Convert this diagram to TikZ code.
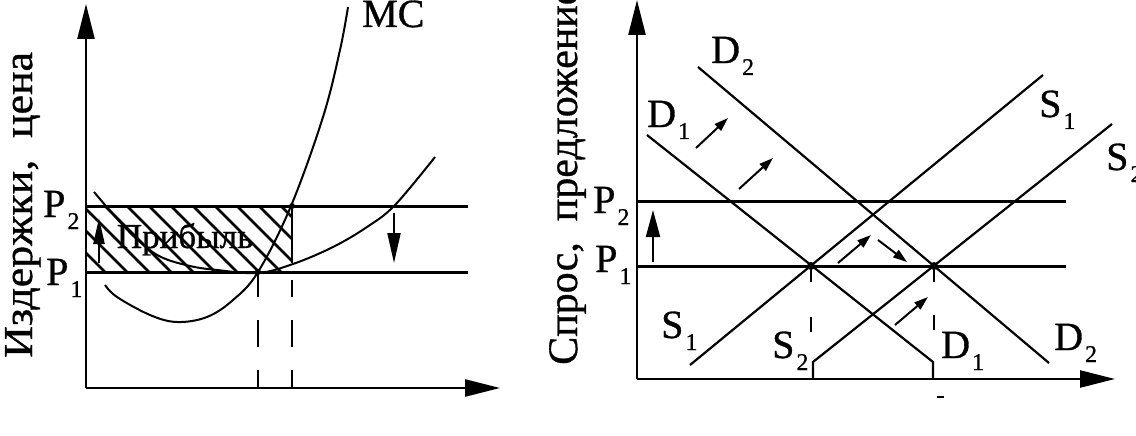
\documentclass[tikz,border=0pt]{standalone}
\usepackage{fontspec}
\setmainfont{Liberation Serif}[FakeBold=0.8]
\usetikzlibrary{arrows.meta}
\newcommand\sublab[2]{{\fontsize{40}{40}\selectfont #1}\kern2pt\raisebox{-12pt}{\fontsize{24}{24}\selectfont #2}}
\begin{document}
\begin{tikzpicture}[x=1pt,y=-1pt,
  axis/.style={line width=2.5pt,-{Triangle[length=35pt,width=17pt]}},
  price/.style={line width=3pt},
  curve/.style={line width=2pt},
  sd/.style={line width=2.2pt},
  hatch/.style={line width=2.5pt},
  guide/.style={line width=2pt},
  shiftarrow/.style={line width=2pt,-{Triangle[length=14pt,width=9pt]}},
  lbl/.style={inner sep=0pt,anchor=base west},
  dot/.style={circle,fill,inner sep=0pt,minimum size=8pt},
]
\useasboundingbox (0,0) rectangle (1136,436);

% ---------- left chart ----------
\coordinate (LO) at (86,388);
\coordinate (LYT) at (86,4);
\coordinate (LXT) at (500,388);
\begin{scope}
  \clip (86,206) rectangle (292,272);
  \foreach \k in {-6,...,7} \draw[hatch] ({127+22*\k},206) -- ({193+22*\k},272);
\end{scope}
\draw[axis] (LO) -- (LYT);
\draw[axis] (LO) -- (LXT);
\coordinate (LP2a) at (86,206); \coordinate (LP2b) at (468,206);
\coordinate (LP1a) at (86,272); \coordinate (LP1b) at (468,272);
\draw[price] (LP2a) -- (LP2b);
\draw[price] (LP1a) -- (LP1b);
\coordinate (A) at (292,206);
\coordinate (B) at (258,272);
\coordinate (Ab) at (292,388);
\coordinate (Bb) at (258,388);
\draw[guide,dash pattern=on 57pt off 17pt on 17pt off 23pt on 27pt off 23pt on 18pt] (A) -- (Ab);
\draw[guide,dash pattern=on 25pt off 23pt on 27pt off 23pt on 18pt] (B) -- (Bb);
% MC
\draw[curve] plot[smooth,tension=0.6] coordinates {(105,285) (117,297) (150,315) (177,322) (207,317) (233,300) (258,272) (291,206) (323,117) (340,50) (348,7)};
% AC
\draw[curve] plot[smooth,tension=0.6] coordinates {(94,192) (120,222) (140,242) (161,257) (190,266) (217,270) (258,273) (293,264) (333,247) (367,227) (395,205) (435,157)};
\node[dot,minimum size=6pt] (dA) at (A) {};
\node[dot,minimum size=6pt] (dB) at (B) {};
\coordinate (ua1) at (99,263); \coordinate (ua2) at (99,218);
\draw[line width=2.5pt,-{Triangle[length=26pt,width=11pt]}] (ua1) -- (ua2);
\coordinate (da1) at (394,213); \coordinate (da2) at (394,263);
\draw[line width=2pt,-{Triangle[length=30pt,width=13pt]}] (da1) -- (da2);
\node[inner sep=0pt,anchor=base,font=\fontsize{35}{35}\selectfont] (profit) at (185,248) {Прибыль};
\node[rotate=90,anchor=base west,inner sep=0pt,font=\fontsize{41}{41}\selectfont] (ylabL) at (32,358) {\scalebox{1.07}[1]{Издержки,\ \ цена}};
\node[lbl,font=\fontsize{40}{40}\selectfont] (mc) at (362,27) {MC};
\node[lbl] (lp2) at (43,217) {\sublab{P}{2}};
\node[lbl] (lp1) at (46,285) {\sublab{P}{1}};

% ---------- right chart ----------
\coordinate (RO) at (637,379);
\coordinate (RYT) at (637,0);
\coordinate (RXT) at (1115,379);
\draw[axis] (RO) -- (RYT);
\draw[axis] (RO) -- (RXT);
\coordinate (RP2a) at (637,201); \coordinate (RP2b) at (1066,201);
\coordinate (RP1a) at (637,266); \coordinate (RP1b) at (1066,266);
\draw[price] (RP2a) -- (RP2b);
\draw[price] (RP1a) -- (RP1b);
\coordinate (D1t) at (647,135); \coordinate (D1k) at (933,362); \coordinate (D1b) at (933,379);
\coordinate (D2t) at (698,67);  \coordinate (D2b) at (1049,363);
\coordinate (S1b) at (690,365); \coordinate (S1t) at (1043,75);
\coordinate (S2t) at (1112,124); \coordinate (S2k) at (813,362); \coordinate (S2b) at (813,379);
\draw[sd] (D1t) -- (D1k) -- (D1b);
\draw[sd] (D2t) -- (D2b);
\draw[sd] (S1b) -- (S1t);
\draw[sd] (S2t) -- (S2k) -- (S2b);
\coordinate (E1) at (811,266);
\coordinate (E2) at (934,266);
\coordinate (E1b) at (811,362);
\coordinate (E2b) at (934,362);
\draw[guide,dash pattern=on 16pt off 35pt on 15pt off 100pt] (E1) -- (E1b);
\draw[guide,dash pattern=on 16pt off 33pt on 15pt off 100pt] (E2) -- (E2b);
\node[dot] (dE1) at (E1) {};
\node[dot] (dE2) at (E2) {};
% shift arrows
\coordinate (a1s) at (696,148); \coordinate (a1e) at (728,118);
\coordinate (a2s) at (739,189); \coordinate (a2e) at (773,158);
\coordinate (a3s) at (838,263); \coordinate (a3e) at (871,235);
\coordinate (a4s) at (878,240); \coordinate (a4e) at (907,262);
\coordinate (a5s) at (895,325); \coordinate (a5e) at (928,297);
\draw[shiftarrow] (a1s) -- (a1e);
\draw[shiftarrow] (a2s) -- (a2e);
\draw[shiftarrow] (a3s) -- (a3e);
\draw[shiftarrow] (a4s) -- (a4e);
\draw[shiftarrow] (a5s) -- (a5e);
\coordinate (ra1) at (653,262); \coordinate (ra2) at (653,210);
\draw[line width=2pt,-{Triangle[length=27pt,width=14pt]}] (ra1) -- (ra2);
\coordinate (m1) at (937,397); \coordinate (m2) at (944,397);
\draw[line width=1.5pt] (m1) -- (m2);
% labels
\node[rotate=90,anchor=base west,inner sep=0pt,font=\fontsize{42}{42}\selectfont] (ylabR) at (577,365) {Спрос,\ \ предложение};
\node[lbl] (rp2) at (593,213) {\sublab{P}{2}};
\node[lbl] (rp1) at (595,272) {\sublab{P}{1}};
\node[lbl] (ld2t) at (711,63) {\sublab{D}{2}};
\node[lbl] (ld1t) at (647,127) {\sublab{D}{1}};
\node[lbl] (ls1t) at (1039,117) {\sublab{S}{1}};
\node[lbl] (ls2t) at (1106,170) {\sublab{S}{2}};
\node[lbl] (ls1b) at (661,338) {\sublab{S}{1}};
\node[lbl] (ls2b) at (772,358) {\sublab{S}{2}};
\node[lbl] (ld1b) at (941,358) {\sublab{D}{1}};
\node[lbl] (ld2b) at (1054,350) {\sublab{D}{2}};
\end{tikzpicture}
\end{document}
